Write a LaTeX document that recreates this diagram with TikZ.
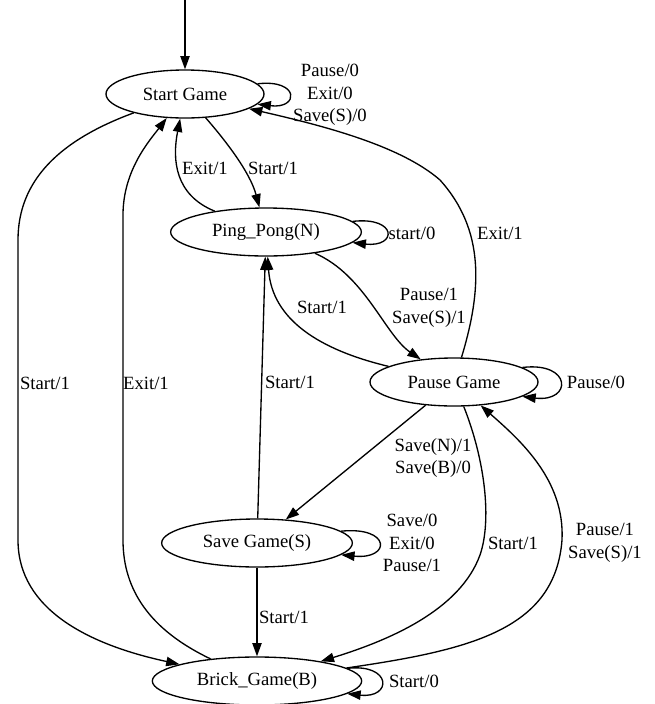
\documentclass[tikz,border=0pt]{standalone}
\usepackage{fontspec}
\setmainfont{Liberation Serif}
\usetikzlibrary{shapes.geometric,arrows.meta}

\begin{document}
\begin{tikzpicture}[x=0.75pt,y=-0.75pt]
            \tikzstyle{every node} = [font=\fontsize{14}{16.8}\selectfont]
            \tikzstyle{state} = [draw, ellipse, line width=1pt, minimum height=36pt, inner sep=0pt]
            \tikzstyle{ann} = [align=center, inner sep=0pt]
            \tikzstyle{trans} = [line width=1pt, -{Triangle[length=10pt,width=7pt]}]
            \useasboundingbox (0,0) rectangle (654,704);
            \node[state, minimum width=118.5pt] (sg) at (185,94) {Start Game};
            \node[state, minimum width=143pt] (pp) at (266,232) {Ping\_Pong(N)};
            \node[state, minimum width=126pt] (pg) at (454,382) {Pause Game};
            \node[state, minimum width=143pt] (sv) at (257,543) {Save Game(S)};
            \node[state, minimum width=157pt] (bg) at (257,681) {Brick\_Game(B)};
            \coordinate (init) at (185,0);
            \draw[trans] (init) -- (sg);
            % self loops
            \draw[trans] (sg.8) .. controls +(42,-5) and +(42,5) .. (sg.-8);
            \draw[trans] (pp.7) .. controls +(45,-5) and +(45,5) .. (pp.-7);
            \draw[trans] (pg.12) .. controls +(50,-6) and +(50,6) .. (pg.-12);
            \draw[trans] (sv.8) .. controls +(50,-5) and +(50,5) .. (sv.-8);
            \draw[trans] (bg.8) .. controls +(45,-5) and +(45,5) .. (bg.-8);
            \node[ann] (l0) at (330,95) {Pause/0\\Exit/0\\Save(S)/0};
            \node[ann] (l1) at (412,233) {start/0};
            \node[ann] (l2) at (596,382) {Pause/0};
            \node[ann] (l3) at (412,543) {Save/0\\Exit/0\\Pause/1};
            \node[ann] (l4) at (414,681) {Start/0};
            % transitions between states
            \draw[trans] (sg) .. controls (225,140) and (250,172) .. (pp);
            \node[ann] (l5) at (273,168) {Start/1};
            \draw[trans] (pp) .. controls (175,195) and (172,160) .. (sg);
            \node[ann] (l6) at (205,168) {Exit/1};
            \draw[trans] (sg) .. controls (60,140) and (18,180) .. (18,240) -- (18,540) .. controls (18,610) and (90,645) .. (bg);
            \node[ann] (l7) at (45,383) {Start/1};
            \draw[trans] (bg) .. controls (150,630) and (123,590) .. (123,540) -- (123,215) .. controls (123,170) and (150,140) .. (sg);
            \node[ann] (l8) at (146,383) {Exit/1};
            \draw[trans] (pp) .. controls (365,275) and (385,335) .. (pg);
            \node[ann] (l9) at (429,308) {Pause/1\\Save(S)/1};
            \draw[trans] (pg) .. controls (320,350) and (272,320) .. (pp);
            \node[ann] (l10) at (322,307) {Start/1};
            \draw[trans] (pg) .. controls (482,290) and (485,230) .. (440,180) .. controls (400,145) and (320,125) .. (sg);
            \node[ann] (l11) at (500,233) {Exit/1};
            \draw[trans] (pg) -- (sv);
            \node[ann] (l12) at (433,458) {Save(N)/1\\Save(B)/0};
            \draw[trans] (pg) .. controls (485,460) and (492,520) .. (480,555) .. controls (460,610) and (390,640) .. (bg);
            \node[ann] (l13) at (513,543) {Start/1};
            \draw[trans] (bg) .. controls (470,650) and (555,630) .. (562,540) .. controls (565,480) and (520,440) .. (pg);
            \node[ann] (l14) at (605,543) {Pause/1\\Save(S)/1};
            \draw[trans] (sv) -- (pp);
            \node[ann] (l15) at (290,382) {Start/1};
            \draw[trans] (sv) -- (bg);
            \node[ann] (l16) at (284,617) {Start/1};
\end{tikzpicture}
\end{document}
